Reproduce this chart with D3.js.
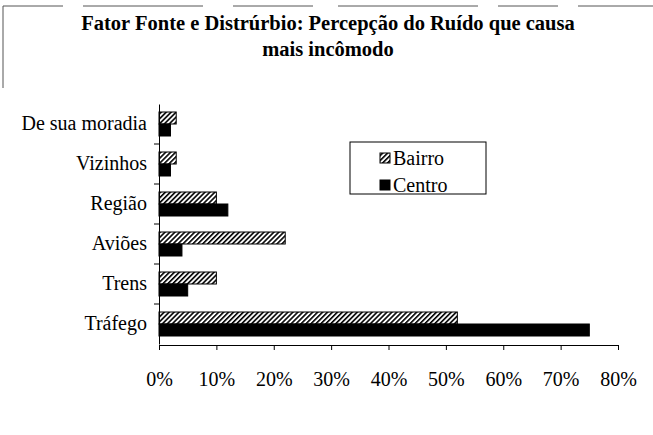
<!DOCTYPE html>
<html><head><meta charset="utf-8">
<script src="https://cdn.jsdelivr.net/npm/d3@7"></script>
<style>body{margin:0;background:#fff}svg{display:block}svg text{font-family:"Liberation Serif","Times New Roman",serif}</style>
</head><body>
<svg id="c" width="653" height="435"></svg>
<script>
const categories = ["De sua moradia","Vizinhos","Região","Aviões","Trens","Tráfego"];
const bairro = [3, 3, 10, 22, 10, 52];
const centro = [2, 2, 12, 4, 5, 75];
const seriesNames = ["Bairro","Centro"];
const xTicks = [0,10,20,30,40,50,60,70,80];
const titleLines = ["Fator Fonte e Distrúrbio: Percepção do Ruído que causa","mais incômodo"];

const svg = d3.select("#c");
const font = '"Liberation Serif","Times New Roman",serif';
const defs = svg.append("defs");
const pat = defs.append("pattern").attr("id","hatch").attr("patternUnits","userSpaceOnUse")
  .attr("width",3.5).attr("height",3.5).attr("patternTransform","rotate(45)");
pat.append("rect").attr("width",3.5).attr("height",3.5).attr("fill","#fff");
pat.append("rect").attr("x",0).attr("width",1.6).attr("height",3.5).attr("fill","#000");

// outer frame (partial, as in the scan)
svg.append("line").attr("x1",3).attr("x2",653).attr("y1",6).attr("y2",6).attr("stroke","#555").attr("stroke-width",1).attr("stroke-dasharray","60 20 120 30 80 25 140 20");
svg.append("line").attr("x1",3).attr("x2",3).attr("y1",6).attr("y2",88).attr("stroke","#555").attr("stroke-width",1);

const x = d3.scaleLinear().domain([0,80]).range([159,618]);
const y = d3.scaleBand().domain(categories).range([104,344]).paddingInner(0.4).paddingOuter(0.2);
const yOuter = d3.scaleBand().domain(categories).range([104,344]);
const sub = d3.scaleBand().domain(seriesNames).range([0,y.bandwidth()]);

// title
svg.append("g").selectAll("text").data(titleLines).join("text")
  .attr("x",328).attr("y",(d,i)=>30+i*26).attr("text-anchor","middle")
  .style("font-family",font).attr("font-weight","bold").attr("font-size",20.5).text(d=>d);

// bars
const data = categories.map((c,i)=>({c, vals:[bairro[i],centro[i]]}));
const g = svg.append("g");
data.forEach(d=>{
  seriesNames.forEach((s,j)=>{
    g.append("rect").attr("x",x(0)).attr("y",y(d.c)+sub(s))
      .attr("width",x(d.vals[j])-x(0)).attr("height",sub.bandwidth())
      .attr("fill", j===0 ? "url(#hatch)" : "#000").attr("stroke","#000").attr("stroke-width",1);
  });
});

// x axis
const xa = svg.append("g").attr("transform","translate(0,345)")
  .call(d3.axisBottom(x).tickValues(xTicks).tickFormat(d=>d+"%").tickSize(5).tickPadding(22));
xa.attr("font-family",null);
xa.selectAll("text").style("font-family",font).attr("font-size",20).attr("fill","#000");
xa.selectAll("line,path").attr("stroke","#000");

// y axis
const ya = svg.append("g").attr("transform",`translate(${x(0)},0)`)
  .call(d3.axisLeft(yOuter).tickSize(0).tickPadding(12));
ya.attr("font-family",null);
ya.selectAll("text").style("font-family",font).attr("font-size",20).attr("fill","#000");
ya.select("path").attr("stroke","#000");
svg.append("g").selectAll("line").data(categories.slice(1)).join("line")
  .attr("x1",x(0)-5).attr("x2",x(0)).attr("y1",d=>yOuter(d)).attr("y2",d=>yOuter(d)).attr("stroke","#000");

// legend
const lg = svg.append("g");
lg.append("rect").attr("x",350).attr("y",142).attr("width",136).attr("height",52).attr("fill","#fff").attr("stroke","#000");
seriesNames.forEach((s,i)=>{
  lg.append("rect").attr("x",380).attr("y",153+i*27).attr("width",10).attr("height",10)
    .attr("fill", i===0 ? "url(#hatch)" : "#000").attr("stroke","#000");
  lg.append("text").attr("x",393).attr("y",165+i*27).style("font-family",font).attr("font-size",20).text(s);
});
</script>
</body></html>
